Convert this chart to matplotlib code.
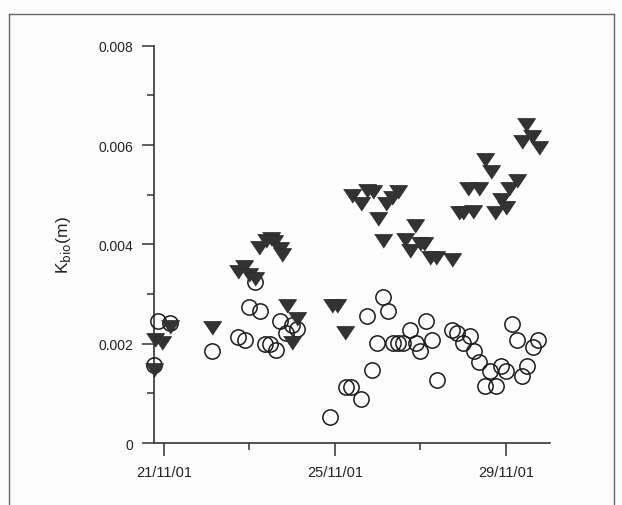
import numpy as np
import matplotlib
matplotlib.use("Agg")
import matplotlib.pyplot as plt
from matplotlib.lines import Line2D
from matplotlib import rcParams

rcParams['font.family'] = ['Liberation Sans', 'DejaVu Sans']

# day of November 2001 (fractional), K_bio in m
tri_day = [20.76, 20.80, 20.95, 21.14, 22.12, 22.72, 22.87, 23.00, 23.12, 23.22,
           23.38, 23.50, 23.58, 23.71, 23.76, 23.87, 24.12, 24.00, 24.93, 25.04,
           25.23, 25.39, 25.62, 25.76, 25.90, 26.00, 26.12, 26.20, 26.33, 26.47,
           26.64, 26.75, 26.87, 26.99, 27.08, 27.22, 27.36, 27.73, 27.90, 28.00,
           28.24, 28.11, 28.36, 28.50, 28.64, 28.74, 28.88, 29.00, 29.06, 29.25,
           29.37, 29.48, 29.62, 29.78]
tri_k = [1.50, 2.09, 2.03, 2.36, 2.33, 3.46, 3.56, 3.40, 3.32, 3.95,
         4.08, 4.12, 4.06, 3.92, 3.80, 2.78, 2.52, 2.04, 2.78, 2.78,
         2.23, 4.99, 4.84, 5.09, 5.07, 4.54, 4.08, 4.84, 4.95, 5.08,
         4.10, 3.89, 4.38, 4.03, 4.02, 3.75, 3.74, 3.71, 4.65, 4.65,
         4.67, 5.14, 5.14, 5.71, 5.48, 4.65, 4.92, 4.76, 5.14, 5.29,
         6.08, 6.42, 6.18, 5.97]

circ_day = [20.77, 20.87, 21.14, 22.12, 22.74, 22.89, 23.00, 23.13, 23.24, 23.36,
            23.49, 23.62, 23.72, 23.86, 23.99, 24.12, 24.88, 25.25, 25.37, 25.61,
            25.74, 25.87, 25.99, 26.12, 26.24, 26.35, 26.47, 26.58, 26.76, 26.89,
            26.99, 27.12, 27.27, 27.39, 27.73, 27.86, 28.00, 28.15, 28.25, 28.38,
            28.50, 28.63, 28.76, 28.89, 29.01, 29.13, 29.25, 29.38, 29.50, 29.63,
            29.76]
circ_k = [1.57, 2.45, 2.42, 1.86, 2.14, 2.08, 2.74, 3.24, 2.65, 2.00,
          2.00, 1.88, 2.45, 2.21, 2.38, 2.29, 0.52, 1.13, 1.13, 0.89,
          2.55, 1.47, 2.01, 2.95, 2.66, 2.01, 2.01, 2.01, 2.27, 2.01,
          1.85, 2.45, 2.08, 1.26, 2.27, 2.22, 2.01, 2.15, 1.86, 1.64,
          1.15, 1.45, 1.15, 1.55, 1.46, 2.39, 2.08, 1.35, 1.56, 1.94,
          2.07]

major_days = [21, 25, 29]
major_labels = ['21/11/01', '25/11/01', '29/11/01']
minor_days = [23, 27]

tri_k = np.array(tri_k) * 1e-3
circ_k = np.array(circ_k) * 1e-3

fig = plt.figure(figsize=(6.22, 5.06), dpi=100)
fig.patch.set_facecolor('#fdfdfd')
ax = fig.add_axes([0.2476, 0.1225, 0.6366, 0.7852])
ax.set_facecolor('none')

tri_marker = [(-1, 0.65), (1, 0.65), (0, -0.85)]
ax.plot(circ_day, circ_k, 'o', ms=11, mfc='none', mec='#1a1a1a', mew=1.1,
        clip_on=False, zorder=3)
ax.plot(tri_day, tri_k, ls='none', marker=tri_marker, ms=13, mfc='#333333',
        mec='#2a2a2a', mew=0.6, clip_on=False, zorder=4)

ax.set_xlim(20.766, 30.03)
ax.set_ylim(0, 0.008)

for s in ['top', 'right']:
    ax.spines[s].set_visible(False)
for s in ['left', 'bottom']:
    ax.spines[s].set_linewidth(1.2)
    ax.spines[s].set_color('#333333')

ax.set_xticks(major_days)
ax.set_xticklabels(major_labels)
ax.set_xticks(minor_days, minor=True)
ax.set_yticks([0, 0.002, 0.004, 0.006, 0.008])
ax.set_yticklabels(['0', '0.002', '0.004', '0.006', '0.008'])
ax.set_yticks([0.001, 0.003, 0.005, 0.007], minor=True)

ax.tick_params(which='major', length=9, width=1.1, color='#333333',
               labelsize=10.5, labelcolor='#222222')
ax.tick_params(which='minor', length=5, width=1.1, color='#333333')
ax.tick_params(axis='x', which='major', pad=7)
ax.tick_params(axis='y', which='major', pad=6, labelsize=10)

ax.set_ylabel(r'K$_{\mathrm{bio}}$(m)', fontsize=12.5, color='#222222')
ax.yaxis.set_label_coords(-0.205, 0.5)

# frame around the whole figure (open at bottom)
x0, x1, y1 = 9 / 622, 614 / 622, 1 - 15 / 506
for xs, ys in [([x0, x0], [0, y1]), ([x0, x1], [y1, y1]), ([x1, x1], [y1, 0])]:
    fig.add_artist(Line2D(xs, ys, color='#666666', lw=1.0))

fig.savefig('out.png', dpi=100, facecolor=fig.get_facecolor())
